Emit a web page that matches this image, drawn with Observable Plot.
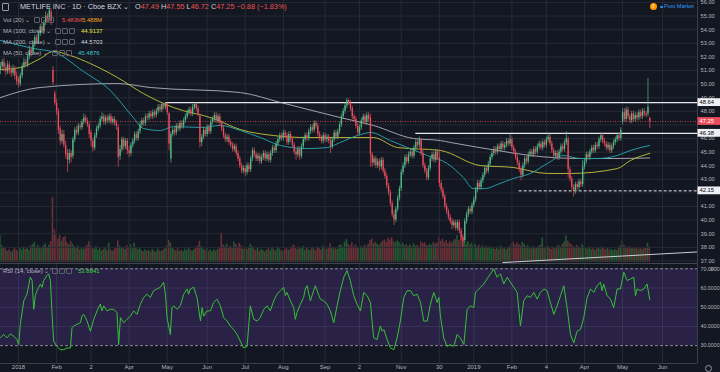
<!DOCTYPE html>
<html><head><meta charset="utf-8">
<script src="https://cdn.jsdelivr.net/npm/d3@7"></script>
<script src="https://cdn.jsdelivr.net/npm/@observablehq/plot@0.6"></script>
<style>
html,body{margin:0;padding:0;background:#131722;}
#wrap{position:relative;width:720px;height:372px;overflow:hidden;background:#131722;font-family:"Liberation Sans",Arial,sans-serif;}
.layer{position:absolute;left:0;}
.t{position:absolute;white-space:nowrap;line-height:1;}
.ic{position:absolute;width:4px;height:4px;border:1px solid #5d606b;border-radius:1px;}
</style></head><body>
<div id="wrap"></div>
<script>
// ---- Daily candles (index 0 = mid-Dec 2017, one per trading day) ----
const open = [51.0,51.3,51.6,51.2,50.9,51.4,51.0,50.8,51.1,50.6,
50.3,50.0,50.6,51.3,51.6,51.4,52.0,52.5,52.3,52.9,
53.4,53.1,53.7,54.2,53.9,54.5,55.0,54.8,55.3,51.0,
49.3,48.6,48.0,46.7,45.8,46.3,45.5,44.9,44.4,44.9,
44.7,45.9,46.6,46.4,46.9,46.8,47.2,47.5,47.3,47.0,
46.4,45.8,45.3,46.2,46.7,46.9,47.4,47.6,47.2,47.5,
47.3,47.6,47.2,47.4,47.1,46.8,44.7,45.2,45.9,45.4,
45.8,45.1,44.9,45.5,45.8,46.3,46.0,46.5,47.0,47.3,
47.1,47.6,47.5,47.8,47.6,47.9,47.7,48.0,48.3,48.1,
48.5,48.3,48.6,47.8,44.5,46.3,46.6,46.4,46.9,46.7,
47.1,46.9,47.3,47.6,47.9,48.1,47.8,48.3,48.5,48.2,
47.6,45.7,46.1,46.6,46.3,46.8,46.5,47.2,47.4,47.7,
47.3,47.6,47.1,46.7,46.2,45.9,46.1,45.7,45.5,45.2,
45.4,44.9,44.5,44.0,43.6,43.8,43.5,44.0,43.7,44.5,
45.1,44.8,44.5,44.7,44.3,44.6,44.9,44.5,44.8,44.4,
44.9,45.3,45.1,45.6,45.9,46.2,46.0,46.4,46.2,45.7,
46.3,45.9,45.5,45.0,44.8,45.2,44.7,45.4,45.9,46.2,
46.0,46.5,46.8,46.6,47.1,46.9,46.3,46.0,45.8,46.2,
45.9,46.1,45.8,45.4,45.9,46.4,46.1,46.5,47.0,47.6,
48.0,48.4,48.8,48.6,48.2,47.6,47.4,46.9,46.4,46.8,
47.3,47.6,47.2,47.7,47.5,44.8,44.2,44.5,44.0,44.3,
43.9,44.4,43.6,43.2,42.5,42.0,41.2,40.4,40.0,40.8,
41.6,42.3,43.5,44.0,44.6,44.3,44.8,45.0,44.7,45.3,
45.7,45.5,45.9,44.9,44.0,43.6,43.1,43.8,44.5,44.8,
44.4,45.0,44.6,42.7,42.2,41.7,41.0,40.6,40.2,39.9,
39.6,39.8,39.4,39.8,39.2,38.7,38.5,39.9,40.4,40.8,
40.6,41.1,41.5,42.2,42.7,42.4,42.9,43.3,43.8,43.6,
44.1,44.6,44.9,45.2,45.0,45.4,45.2,45.6,45.3,45.5,
45.8,45.6,45.9,45.3,45.0,44.6,44.2,43.7,43.3,44.0,
44.5,44.3,44.8,45.0,44.8,45.2,45.0,45.4,45.6,45.3,
45.7,45.5,45.9,46.1,45.6,45.1,44.7,44.9,44.6,45.0,
45.4,45.2,45.7,45.9,43.7,43.0,42.4,42.1,42.6,42.4,
42.8,42.6,43.9,44.3,44.8,44.6,45.0,45.3,45.1,45.5,
45.4,45.9,46.2,45.8,45.6,45.3,45.5,45.1,45.4,45.7,
45.9,46.2,46.0,47.2,47.9,47.4,48.1,47.6,47.3,47.8,
47.4,47.7,47.5,47.9,47.6,48.0,47.8,47.8,47.49];
const high = [51.6,51.8,51.9,51.5,51.7,51.6,51.3,51.4,51.3,50.9,
50.5,50.8,51.5,51.9,51.8,52.2,52.8,52.7,53.1,53.6,
53.6,53.9,54.4,54.5,54.7,55.3,55.2,55.7,55.5,51.3,
49.5,48.9,48.2,46.9,46.6,46.6,45.8,45.2,45.2,45.1,
46.1,46.8,46.9,47.1,47.1,47.4,47.8,47.7,47.5,47.2,
46.6,46.0,46.4,46.9,47.1,47.6,47.9,47.8,47.7,47.7,
47.8,47.8,47.6,47.6,47.3,47.0,45.5,46.1,46.1,46.0,
46.0,45.4,45.7,46.0,46.5,46.5,46.7,47.2,47.5,47.5,
47.8,47.8,48.0,48.0,48.1,48.1,48.2,48.5,48.5,48.6,
48.6,48.64,48.6,47.9,46.5,46.8,46.8,47.1,47.1,47.3,
47.3,47.5,47.8,48.1,48.3,48.3,48.5,48.6,48.6,48.4,
47.8,46.3,46.8,46.8,47.0,47.0,47.4,47.6,47.9,47.9,
47.8,47.8,47.3,46.9,46.4,46.3,46.3,45.9,45.7,45.6,
45.6,45.1,44.7,44.2,44.0,44.0,44.2,44.2,44.7,45.3,
45.3,45.0,44.9,44.9,44.8,45.1,45.1,45.0,45.0,45.1,
45.5,45.5,45.8,46.1,46.4,46.4,46.6,46.6,46.4,46.5,
46.5,46.1,45.7,45.2,45.4,45.4,45.6,46.1,46.4,46.4,
46.7,47.0,47.0,47.3,47.3,47.1,46.5,46.2,46.4,46.4,
46.3,46.3,46.0,46.1,46.6,46.6,46.7,47.2,47.8,48.2,
48.6,48.95,48.9,48.8,48.4,47.8,47.6,47.1,47.0,47.5,
47.8,47.8,47.9,47.9,47.8,45.0,44.7,44.7,44.5,44.5,
44.6,44.6,43.8,43.4,42.7,42.2,41.4,40.7,41.0,41.8,
42.5,43.7,44.2,44.8,44.8,45.0,45.2,45.2,45.5,45.9,
45.9,46.1,46.0,45.1,44.2,43.8,44.0,44.7,45.0,45.0,
45.2,45.2,45.1,42.9,42.4,41.9,41.2,40.8,40.4,40.1,
40.0,40.0,40.0,40.0,39.4,38.9,40.1,40.6,41.0,41.0,
41.3,41.7,42.4,42.9,42.9,43.1,43.5,44.0,44.0,44.3,
44.8,45.1,45.4,45.4,45.6,45.6,45.8,45.8,45.7,46.0,
46.0,46.3,46.1,45.5,45.2,44.8,44.4,43.9,44.2,44.7,
44.7,45.0,45.2,45.2,45.4,45.4,45.6,45.8,45.8,45.9,
45.9,46.1,46.4,46.3,45.8,45.3,45.1,45.1,45.2,45.6,
45.6,45.9,46.5,46.1,43.9,43.2,42.6,42.8,42.8,43.0,
43.0,44.4,44.5,45.0,45.0,45.2,45.5,45.5,45.7,45.7,
46.1,46.4,46.4,46.0,45.8,45.7,45.7,45.6,45.9,46.1,
46.4,46.4,46.8,48.2,48.2,48.3,48.3,47.8,48.0,48.0,
47.9,47.9,48.1,48.1,48.2,48.2,48.0,50.4,47.55];
const low = [50.7,51.1,50.9,50.6,50.7,50.7,50.5,50.6,50.3,49.9,
49.7,49.8,50.4,51.1,51.2,51.2,51.8,52.0,52.1,52.7,
52.9,52.9,53.5,53.7,53.7,54.3,54.5,54.6,54.3,49.9,
48.4,47.7,46.3,45.5,45.6,45.3,44.5,43.5,44.1,44.2,
44.5,45.7,46.2,46.2,46.6,46.6,47.0,47.1,46.8,46.0,
45.4,45.0,45.1,46.0,46.5,46.7,47.2,47.0,47.0,47.1,
47.1,47.0,47.0,46.9,46.6,43.9,44.4,45.0,45.1,45.2,
44.8,44.6,44.7,45.3,45.6,45.8,45.8,46.3,46.8,46.9,
46.9,47.3,47.3,47.4,47.4,47.5,47.5,47.8,47.9,47.9,
48.1,48.1,47.7,45.1,44.2,46.1,46.2,46.2,46.5,46.5,
46.7,46.7,47.1,47.4,47.7,47.6,47.6,48.1,48.0,47.6,
45.3,45.4,45.9,46.1,46.1,46.3,46.3,47.0,47.2,47.1,
47.1,46.9,46.5,46.0,45.7,45.7,45.5,45.3,45.0,45.0,
44.7,44.3,43.8,43.4,43.4,43.2,43.3,43.5,43.5,44.3,
44.6,44.3,44.3,44.1,44.1,44.4,44.3,44.3,44.2,44.2,
44.7,44.9,44.9,45.4,45.7,45.8,45.8,46.0,45.5,45.5,
45.7,45.3,44.8,44.4,44.6,44.4,44.5,45.2,45.7,45.8,
45.8,46.3,46.4,46.4,46.7,46.1,45.8,45.6,45.6,45.7,
45.7,45.6,44.9,45.2,45.7,45.9,45.9,46.3,46.8,47.4,
47.8,48.2,48.4,48.0,47.4,47.2,46.7,46.2,46.2,46.6,
47.1,47.0,47.0,47.2,43.9,43.9,44.0,43.8,43.8,43.6,
43.7,43.4,43.0,42.3,41.8,41.0,40.2,39.6,39.8,40.6,
41.4,42.1,43.3,43.8,44.1,44.1,44.6,44.5,44.5,45.1,
45.3,45.3,44.7,43.8,43.4,42.9,42.9,43.6,44.3,44.2,
44.2,44.4,42.4,42.0,41.5,40.8,40.4,40.0,39.7,39.3,
39.4,39.2,39.2,39.0,38.5,38.0,38.3,39.7,40.2,40.4,
40.4,40.9,41.3,42.0,42.2,42.2,42.7,43.1,43.4,43.4,
43.9,44.4,44.7,44.8,44.8,45.0,45.0,45.1,45.1,45.3,
45.4,45.4,45.1,44.8,44.4,44.0,43.5,42.9,43.1,43.8,
44.1,44.1,44.6,44.6,44.6,44.8,44.8,45.2,45.1,45.1,
45.3,45.3,45.7,45.4,44.9,44.5,44.5,44.4,44.4,44.8,
45.0,45.0,45.5,43.1,42.8,42.2,41.7,41.9,42.2,42.2,
42.4,42.4,43.7,44.1,44.4,44.4,44.8,44.9,44.9,45.2,
45.2,45.7,45.6,45.4,45.1,45.1,44.9,44.9,45.2,45.5,
45.7,45.8,45.8,47.0,47.2,47.2,47.4,47.1,47.1,47.2,
47.2,47.3,47.3,47.4,47.4,47.6,47.5,47.6,46.72];
const close = [51.3,51.6,51.2,50.9,51.4,51.0,50.8,51.1,50.6,50.2,
50.0,50.6,51.3,51.6,51.4,52.0,52.5,52.3,52.9,53.4,
53.1,53.7,54.2,53.9,54.5,55.0,54.8,55.4,54.6,50.1,
48.6,48.0,46.6,45.8,46.3,45.5,44.8,44.4,44.9,44.6,
45.9,46.6,46.4,46.9,46.8,47.2,47.5,47.3,47.0,46.3,
45.8,45.3,46.2,46.7,46.9,47.4,47.6,47.2,47.5,47.3,
47.6,47.2,47.4,47.1,46.9,44.6,45.2,45.9,45.4,45.8,
45.1,44.9,45.5,45.8,46.3,46.0,46.5,47.0,47.3,47.1,
47.6,47.5,47.8,47.6,47.9,47.7,48.0,48.3,48.1,48.5,
48.3,48.6,47.9,45.6,46.3,46.6,46.4,46.9,46.7,47.1,
46.9,47.3,47.6,47.9,48.1,47.8,48.3,48.5,48.2,47.8,
45.7,46.1,46.6,46.3,46.8,46.5,47.2,47.4,47.7,47.3,
47.6,47.1,46.7,46.2,45.9,46.1,45.7,45.5,45.2,45.4,
44.9,44.5,44.0,43.6,43.8,43.5,44.0,43.7,44.5,45.1,
44.8,44.5,44.7,44.3,44.6,44.9,44.5,44.8,44.4,44.9,
45.3,45.1,45.6,45.9,46.2,46.0,46.4,46.2,45.7,46.3,
45.9,45.5,45.0,44.8,45.2,44.7,45.4,45.9,46.2,46.0,
46.5,46.8,46.6,47.1,46.9,46.3,46.0,45.8,46.2,45.9,
46.1,45.8,45.4,45.9,46.4,46.1,46.5,47.0,47.6,48.0,
48.4,48.8,48.6,48.2,47.6,47.4,46.9,46.4,46.8,47.3,
47.6,47.2,47.7,47.4,44.8,44.2,44.5,44.0,44.3,43.9,
44.4,43.6,43.2,42.5,42.0,41.2,40.4,40.0,40.8,41.6,
42.3,43.5,44.0,44.6,44.3,44.8,45.0,44.7,45.3,45.7,
45.5,45.9,44.9,44.0,43.6,43.1,43.8,44.5,44.8,44.4,
45.0,44.6,42.7,42.2,41.7,41.0,40.6,40.2,39.9,39.6,
39.8,39.4,39.8,39.2,38.7,38.4,39.9,40.4,40.8,40.6,
41.1,41.5,42.2,42.7,42.4,42.9,43.3,43.8,43.6,44.1,
44.6,44.9,45.2,45.0,45.4,45.2,45.6,45.3,45.5,45.8,
45.6,45.9,45.3,45.0,44.6,44.2,43.7,43.3,44.0,44.5,
44.3,44.8,45.0,44.8,45.2,45.0,45.4,45.6,45.3,45.7,
45.5,45.9,46.1,45.6,45.1,44.7,44.9,44.6,45.0,45.4,
45.2,45.7,46.0,43.7,43.0,42.4,42.1,42.6,42.4,42.8,
42.6,43.9,44.3,44.8,44.6,45.0,45.3,45.1,45.5,45.4,
45.9,46.2,45.8,45.6,45.3,45.5,45.1,45.4,45.7,45.9,
46.2,46.0,46.6,47.9,47.4,48.1,47.6,47.3,47.8,47.4,
47.7,47.5,47.9,47.6,48.0,47.8,47.7,48.3,47.25];
// volume, millions of shares
const volume = [9.5,6.0,5.2,4.8,3.9,4.5,3.6,4.1,5.0,4.4,
3.8,4.9,4.2,5.5,4.6,5.1,4.3,5.8,6.3,7.1,
5.4,6.0,5.2,4.8,5.9,6.6,5.3,6.1,7.4,23.0,
11.5,10.2,8.3,9.6,7.4,8.8,9.1,7.0,6.2,7.5,
6.4,5.6,4.9,5.8,4.4,5.2,4.6,5.5,6.1,7.3,
6.0,5.1,4.7,5.6,4.3,4.9,4.0,4.6,5.3,4.2,
6.8,4.5,3.9,4.7,5.0,7.6,5.8,4.9,5.4,4.6,
5.9,5.2,6.3,4.8,6.8,5.1,4.4,4.9,4.2,3.8,
4.5,3.9,4.3,3.7,4.6,4.0,3.6,4.8,4.1,3.9,
4.4,5.0,6.0,7.8,6.9,5.2,4.6,4.0,4.8,3.9,
4.3,3.8,4.7,4.1,5.2,4.4,3.9,4.6,5.1,5.9,
7.5,5.6,4.8,4.3,5.0,3.9,4.4,3.8,4.5,4.0,
4.6,5.3,10.4,6.2,5.6,6.5,5.1,5.8,4.9,7.2,
6.3,5.5,6.8,5.9,4.7,5.4,4.6,5.0,6.4,5.7,
4.8,4.3,5.1,3.9,4.6,4.2,3.7,4.4,4.9,4.1,
5.2,4.6,4.0,5.5,4.8,4.2,3.9,4.5,5.0,4.3,
4.7,5.6,6.2,5.1,4.5,5.4,4.8,5.7,4.3,5.0,
4.6,4.1,5.2,4.7,4.0,5.5,4.9,4.4,5.8,5.1,
4.5,5.0,6.6,5.4,4.7,5.2,4.6,5.9,6.3,5.5,
7.2,8.1,6.4,5.8,6.9,5.6,6.2,5.4,5.0,5.7,
5.2,6.1,5.5,6.4,7.8,8.3,6.7,7.2,6.5,6.0,
6.8,7.5,8.0,7.1,8.6,7.9,8.8,7.4,6.9,7.6,
7.0,6.3,6.8,5.9,6.4,5.7,6.2,5.5,6.6,5.8,
6.1,5.4,7.3,6.6,7.0,6.2,5.8,6.5,6.0,7.1,
6.4,6.9,8.8,7.5,8.2,7.0,7.8,6.6,7.4,6.8,
7.6,8.1,9.5,7.7,8.4,9.0,7.2,6.5,7.3,6.1,
6.8,5.9,6.4,5.6,6.2,5.3,5.9,5.1,5.7,5.0,
5.5,4.8,5.3,4.6,5.1,4.4,5.8,4.7,5.2,4.5,
4.9,5.6,6.5,7.2,6.1,7.0,6.3,5.8,7.1,6.4,
5.5,6.0,5.2,4.8,5.6,4.9,5.3,5.8,6.2,8.6,
5.4,4.9,5.7,5.1,4.6,5.3,4.8,5.5,6.0,5.2,
6.4,7.3,9.4,7.6,6.8,6.2,5.7,5.3,6.0,5.4,
4.9,6.3,5.6,5.0,4.7,5.4,4.5,4.9,4.3,4.8,
5.2,4.6,5.5,4.9,4.4,5.0,4.3,4.7,4.1,4.6,
4.2,5.1,5.8,7.6,6.2,5.4,4.9,5.6,4.8,5.3,
4.7,5.2,4.5,5.0,4.6,5.3,4.9,6.8,5.48];

// ---- Moving averages, read as anchor points (candle index, price) ----
const ma200Idx = [0,22,64.5,82.7,132.3,154.4,187.4,205.6,227.7,242.6,248.1,274,292.2,319.7,337.9,358];
const ma200Val = [49.01,49.75,50.04,49.75,49.38,48.65,47.54,46.96,46.0,45.85,45.71,45.12,44.75,44.53,44.53,44.57];
const ma100Idx = [0,11,22,29.2,38.6,49.6,64.5,78.8,95.4,117.4,132.3,150.5,169.2,205.6,218.9,242.6,264.6,282.8,301.5,314.2,340.1,347.3,358];
const ma100Val = [51.07,51.22,51.88,52.40,52.10,51.51,50.49,49.31,48.28,47.47,46.66,46.22,46.07,46.07,45.34,45.12,44.01,43.87,43.43,43.43,43.79,44.38,44.91];
const ma50Idx = [0,18.2,30.3,45.8,60.6,73.3,78.8,88.2,95.4,110.3,121.3,132.3,143.3,154.4,169.2,180.3,187.4,196.8,204,215,224.4,235.4,246.4,255.2,260.7,267.4,274,282.8,292.2,301.5,310.4,319.7,329.1,340.1,347.3,358];
const ma50Val = [53.21,52.62,52.32,50.93,49.53,47.54,46.74,46.59,46.88,46.81,46.96,46.59,46.07,45.49,45.26,45.34,45.71,46.22,46.44,45.85,45.34,44.75,44.16,43.13,42.32,42.32,42.62,43.06,43.43,44.16,44.75,44.53,44.53,44.75,45.12,45.49];

// ---- RSI (14) ----
const rsiIdx = [0,1.8,3.7,5.5,7.4,9.2,10.1,11.0,12.9,14.7,16.5,17.5,18.4,19.3,20.2,22.1,23.0,23.9,25.7,26.6,
27.6,28.5,29.4,31.2,33.1,34.9,36.8,38.6,39.5,40.4,42.3,44.1,45.0,45.9,46.9,47.8,49.6,51.5,53.3,55.1,
56.0,57.0,58.8,60.6,62.5,64.3,65.2,66.2,68.0,69.8,71.7,73.5,75.3,77.2,79.0,80.9,82.7,84.5,86.4,88.2,
90.0,91.0,91.9,93.7,94.6,95.6,97.4,99.2,101.1,102.9,103.8,104.7,106.6,108.4,110.3,111.2,112.1,113.9,115.8,117.6,
119.4,121.3,123.1,125.0,126.8,128.6,130.5,132.3,134.1,136.0,137.8,139.7,141.5,143.3,145.2,147.0,148.8,150.7,152.5,154.4,
156.2,157.1,158.0,159.9,161.7,162.6,163.5,165.4,167.2,168.1,169.1,170.9,172.7,173.6,174.6,176.4,178.2,180.1,181.9,183.8,
185.6,187.4,189.3,191.1,192.9,194.8,196.6,198.5,
200.3,202.2,204.0,204.9,205.8,207.7,209.5,210.4,211.4,213.2,215.0,216.9,218.7,220.5,222.4,224.2,226.1,227.9,229.7,231.6,
233.4,235.3,237.1,238.9,240.8,241.7,242.6,244.4,246.3,248.1,250.0,251.8,253.6,255.5,257.3,259.1,261.0,261.9,262.8,264.7,
266.5,268.3,270.2,272.0,273.8,275.7,277.5,279.4,281.2,283.0,284.9,286.7,288.5,290.4,292.2,294.1,295.9,297.7,299.6,301.4,
303.2,305.1,306.9,308.8,310.6,312.4,314.3,316.1,317.9,319.8,321.6,323.5,325.3,327.1,329.0,330.8,331.7,332.6,334.5,336.3,
338.1,340.0,341.8,343.7,345.5,347.3,349.2,350.1,351.0,352.8,354.7,356.5,358];
const rsiVal = [34.0,35.8,34.0,36.1,34.9,33.2,30.5,41.1,53.3,56.8,65.6,63.9,48.9,56.0,58.6,62.1,60.4,63.9,66.5,67.4,
63.9,46.3,32.3,29.6,27.9,27.9,28.8,28.8,39.3,40.2,41.1,41.9,45.4,46.3,44.6,42.8,37.5,43.7,48.1,51.6,
48.1,50.7,48.1,48.9,48.9,47.2,30.5,44.6,41.9,43.7,45.4,48.1,46.3,51.6,55.1,56.8,55.1,58.6,59.5,60.4,
63.0,56.8,44.6,35.8,49.8,50.7,48.9,50.7,56.8,59.5,56.8,59.5,60.4,55.1,42.8,49.8,45.4,48.1,48.1,52.5,
54.2,50.7,44.6,42.8,40.2,38.4,35.8,32.3,28.8,29.6,50.7,43.7,42.8,44.6,48.9,50.7,48.1,53.3,56.8,58.6,
60.4,56.0,57.7,53.3,49.8,43.7,47.2,51.6,55.1,59.5,61.2,53.3,58.6,61.2,58.6,54.2,53.3,51.6,48.1,41.9,
50.7,58.6,65.6,69.1,63.9,56.0,51.6,48.0,
57.7,56.0,52.5,42.8,34.0,33.2,40.2,37.5,38.4,33.2,28.8,27.9,34.0,42.8,55.1,58.6,58.6,56.0,56.8,52.5,
42.8,42.8,51.6,57.7,52.5,55.1,45.4,34.0,29.6,30.5,29.6,35.8,34.0,30.5,48.9,50.7,49.8,57.7,58.6,60.4,
62.1,64.7,67.4,70.0,65.6,67.4,62.1,65.6,63.0,60.4,57.7,40.2,53.3,56.0,55.1,57.7,54.2,57.7,59.5,58.6,
52.5,46.3,50.7,56.0,61.2,49.8,35.8,31.4,37.5,38.4,44.6,55.1,59.5,57.7,61.2,63.0,58.6,62.1,56.0,54.2,
49.8,59.5,59.5,68.2,63.9,64.7,65.6,56.0,59.5,58.6,59.5,62.1,53.88];

// ---- Drawn horizontal levels and the trend line ----
const levelPrice = [48.64, 46.38, 42.15];
const levelStart = [91, 229, 286];
const lastPrice = 47.25;
const trendIdx = [277, 384.3];
const trendVal = [36.88, 37.66];

// ---- Axes ----
const priceGrid = [37,38,39,40,41,42,43,44,45,46,47,48,49,50,51,52,53,54,55,56];
const priceTickLabels = [37,38,39,40,41,43,44,45,46,48,49,50,51,52,53,54,55,56];
const rsiTicks = [30,40,50,60,70];
const rsiBand = [30,70];
const rsiGrid = [40,50,60];
const monthIdx = [10,31,50,71,92,114,135,156,179,198,221,242,261,282,301,322,343,365];
const monthLabel = ["2018","Feb","2","Apr","May","Jun","Jul","Aug","Sep","2","Nov","30","2019","Feb","4","Apr","May","Jun"];

// ---------------------------------------------------------------
const wrap = document.getElementById("wrap");
const FONT = '"Liberation Sans", Arial, sans-serif';
const UP = "#53b987", DOWN = "#eb4d5c";
const GRID = "#262a35";
const xDom = [0.08, 384.3];
const candles = close.map((c, j) => ({j, o: open[j], h: high[j], l: low[j], c, v: volume[j]}));
const dir = d => d.c >= d.o ? UP : DOWN;
const pts = (idx, val) => idx.map((j, i) => ({j, p: val[i]}));

function place(el, top) { el.classList.add("layer"); el.style.top = top + "px"; wrap.appendChild(el); }

// Volume layer (beneath)
const volPlot = Plot.plot({
  width: 720, height: 262, marginTop: 0, marginRight: 23, marginBottom: 0, marginLeft: 0,
  x: {domain: xDom, axis: null}, y: {domain: [0, 92.6], axis: null},
  style: {background: "transparent"},
  marks: [
    Plot.rect(candles, {x1: d => d.j - 0.5, x2: d => d.j + 0.5, y1: () => 0, y2: "v",
      fill: d => d.c >= d.o ? "#215a30" : "#6a3037", insetLeft: 0.1, insetRight: 0.1})
  ]
});
place(volPlot, 0);

// Price pane
const mainPlot = Plot.plot({
  width: 720, height: 263, marginTop: 0, marginRight: 23, marginBottom: 0, marginLeft: 0,
  x: {domain: xDom, axis: null}, y: {domain: [36.81, 56.147], axis: null},
  style: {background: "transparent", color: "#b2b5be", fontSize: "5.7px", fontFamily: FONT},
  marks: [
    Plot.ruleY(priceGrid, {stroke: GRID}),
    Plot.ruleX(monthIdx, {stroke: GRID}),
    Plot.ruleY([lastPrice], {stroke: DOWN, strokeDasharray: "1,1.5", strokeWidth: 0.8}),
    Plot.ruleY(levelPrice.slice(0, 2), {x1: (d, i) => levelStart[i], x2: () => xDom[1], stroke: "#e6e8ee", strokeWidth: 1.1}),
    Plot.ruleY(levelPrice.slice(2), {x1: () => levelStart[2], x2: () => xDom[1], stroke: "#e6e8ee", strokeWidth: 1, strokeDasharray: "3,2"}),
    Plot.line(pts(trendIdx, trendVal), {x: "j", y: "p", stroke: "#c9ccd4", strokeWidth: 1, clip: true}),
    Plot.line(pts(ma200Idx, ma200Val), {x: "j", y: "p", stroke: "#b8bbc4", strokeWidth: 1, curve: "monotone-x", strokeOpacity: 0.85}),
    Plot.line(pts(ma100Idx, ma100Val), {x: "j", y: "p", stroke: "#c6c43a", strokeWidth: 1, curve: "monotone-x", strokeOpacity: 0.9}),
    Plot.line(pts(ma50Idx, ma50Val), {x: "j", y: "p", stroke: "#26a2ac", strokeWidth: 1, curve: "monotone-x", strokeOpacity: 0.95}),
    Plot.ruleX(candles, {x: "j", y1: "l", y2: "h", stroke: dir, strokeWidth: 0.7}),
    Plot.ruleX(candles, {x: "j", y1: "o", y2: "c", stroke: dir, strokeWidth: 1.35}),
    Plot.ruleX([xDom[1]], {stroke: "#3a3e4a"}),
    Plot.axisY(priceTickLabels, {anchor: "right", tickSize: 0, tickPadding: 3, tickFormat: d => d.toFixed(2)})
  ]
});
place(mainPlot, 0);
{
  const ys = mainPlot.scale("y");
  const svg = d3.select(mainPlot);
  const g = svg.append("g").attr("text-anchor", "start");
  const tags = [[levelPrice[0], "#eef0f5", "#000000"], [lastPrice, DOWN, "#ffffff"], [levelPrice[1], "#eef0f5", "#000000"], [levelPrice[2], "#eef0f5", "#000000"]];
  for (const [v, bg, fg] of tags) {
    const yy = ys.apply(v);
    g.append("rect").attr("x", 697.5).attr("y", yy - 3.9).attr("width", 22.5).attr("height", 7.8).attr("fill", bg);
    g.append("text").attr("x", 699.5).attr("y", yy).attr("dy", "0.36em").attr("fill", fg)
      .attr("text-anchor", "start").attr("font-size", 5.8).attr("font-family", FONT).text(v.toFixed(2));
  }
}

// RSI pane + time axis
const rsiPlot = Plot.plot({
  width: 720, height: 109, marginTop: 0, marginRight: 23, marginBottom: 9, marginLeft: 0,
  x: {domain: xDom, axis: null}, y: {domain: [20.7, 72.76], axis: null},
  style: {background: "transparent", color: "#b2b5be", fontSize: "5.3px", fontFamily: FONT},
  marks: [
    Plot.rect([rsiBand], {x1: () => xDom[0], x2: () => xDom[1], y1: d => d[0], y2: d => d[1], fill: "#2a2146"}),
    Plot.ruleY(rsiGrid, {stroke: "#8a80b0", strokeOpacity: 0.18}),
    Plot.ruleX(monthIdx, {stroke: "#8a8fa0", strokeOpacity: 0.16}),
    Plot.ruleY(rsiBand, {stroke: "#a3a6af", strokeDasharray: "3,2", strokeWidth: 0.8}),
    Plot.line(pts(rsiIdx, rsiVal), {x: "j", y: "p", stroke: "#35c335", strokeWidth: 1}),
    Plot.ruleY([72.76], {stroke: "#434651", strokeWidth: 1.2}),
    Plot.ruleY([20.7], {stroke: "#3a3e4a"}),
    Plot.ruleX([xDom[1]], {stroke: "#3a3e4a"}),
    Plot.axisY(rsiTicks, {anchor: "right", tickSize: 0, tickPadding: 3, tickFormat: d => d.toFixed(4)}),
    Plot.text(monthIdx, {x: d => d, text: (d, i) => monthLabel[i], frameAnchor: "bottom", dy: 5.5, fill: "#b2b5be", fontSize: 6})
  ]
});
place(rsiPlot, 263);

// ---- Header, legends, badges (HTML overlays) ----
function txt(x, y, s, color, size, weight) {
  const d = document.createElement("div");
  d.className = "t";
  d.style.left = x + "px"; d.style.top = y + "px";
  d.style.color = color; d.style.fontSize = size + "px";
  if (weight) d.style.fontWeight = weight;
  d.innerHTML = s; wrap.appendChild(d); return d;
}
function icons(x, y) {
  for (let k = 0; k < 3; k++) {
    const b = document.createElement("div");
    b.className = "ic"; b.style.left = (x + k * 7) + "px"; b.style.top = y + "px";
    wrap.appendChild(b);
  }
}
{ const b = document.createElement("div"); b.className = "ic";
  b.style.left = "2px"; b.style.top = "3px"; b.style.width = "5px"; b.style.height = "6px"; b.style.borderColor = "#9598a1";
  wrap.appendChild(b); }
txt(20, 3, "METLIFE INC · 1D · Cboe BZX ⌄", "#d1d4dc", 7.3);
const R = "#ef5350";
txt(135, 3, `<span style="color:#d1d4dc">O</span><span style="color:${R}">47.49</span> <span style="color:#d1d4dc">H</span><span style="color:${R}">47.55</span> <span style="color:#d1d4dc">L</span><span style="color:${R}">46.72</span> <span style="color:#d1d4dc">C</span><span style="color:${R}">47.25</span> <span style="color:${R}">−0.88 (−1.83%)</span>`, "#d1d4dc", 7.3);

const LG = "#b2b5be";
txt(3, 16.5, "Vol (20) ⌄", LG, 6); icons(34, 17); txt(62, 16.5, "5.483M", "#ef5350", 6); txt(82, 16.5, "5.488M", "#f5a623", 6);
txt(3, 27.5, "MA (100, close) ⌄", LG, 6); icons(55, 28); txt(81, 27.5, "44.9137", "#e8e63a", 6);
txt(3, 38.5, "MA (200, close) ⌄", LG, 6); icons(55, 39); txt(81, 38.5, "44.5703", "#d1d4dc", 6);
txt(3, 49.5, "MA (50, close) ⌄", LG, 6); icons(52, 50); txt(78, 49.5, "45.4876", "#3fc4d2", 6);
txt(3, 267.5, "RSI (14, close) ⌄", LG, 6); icons(52, 268); txt(78, 267.5, "53.8841", "#3ed33e", 6);

{ const c = document.createElement("div");
  c.style.cssText = "position:absolute;left:650px;top:3px;width:7px;height:7px;border-radius:50%;background:#ff9800;color:#fff;font-size:5.5px;font-weight:bold;text-align:center;line-height:7px;";
  c.textContent = "!"; wrap.appendChild(c);
  const dot = document.createElement("div");
  dot.style.cssText = "position:absolute;left:660px;top:5.5px;width:2.5px;height:2.5px;border-radius:50%;background:#2196f3;";
  wrap.appendChild(dot); }
txt(664, 4, "Post Market", "#2e9bf0", 5.6);
{ const g = document.createElement("div");
  g.style.cssText = "position:absolute;left:705px;top:365px;width:5px;height:5px;border-radius:50%;border:1px solid #9598a1;";
  wrap.appendChild(g); }
</script>
</body></html>
